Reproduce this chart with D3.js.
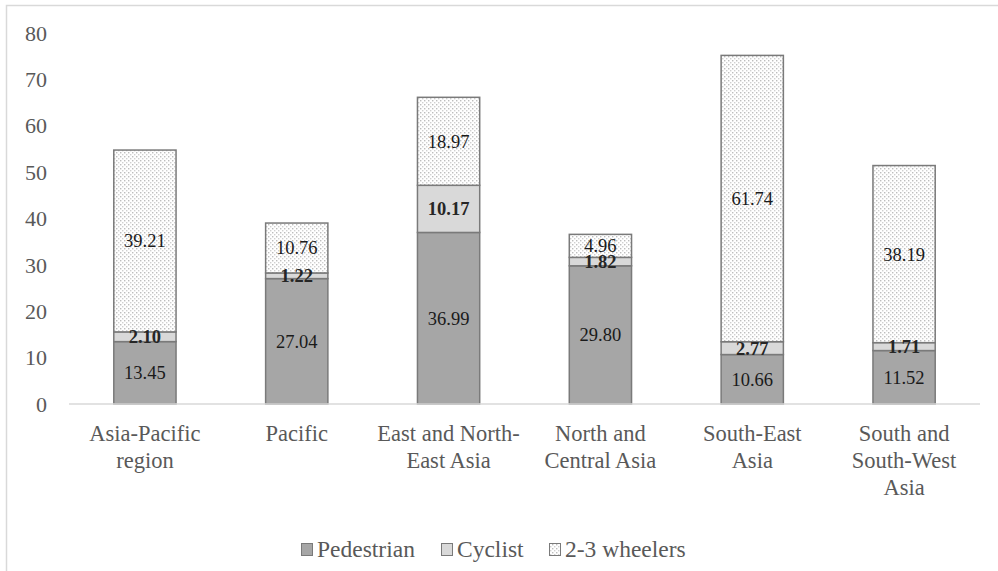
<!DOCTYPE html>
<html>
<head>
<meta charset="utf-8">
<script src="https://cdn.jsdelivr.net/npm/d3@7"></script>
<style>
  html, body { margin: 0; padding: 0; background: #fff; }
  svg { display: block; }
</style>
</head>
<body>
<svg id="chart" width="998" height="571"></svg>
<script>
// Road-user fatality shares by region (%)
const categories = [
  ["Asia-Pacific", "region"],
  ["Pacific"],
  ["East and North-", "East Asia"],
  ["North and", "Central Asia"],
  ["South-East", "Asia"],
  ["South and", "South-West", "Asia"]
];
const pedestrian = [13.45, 27.04, 36.99, 29.80, 10.66, 11.52];
const cyclist = [2.10, 1.22, 10.17, 1.82, 2.77, 1.71];
const wheelers = [39.21, 10.76, 18.97, 4.96, 61.74, 38.19];
const seriesNames = ["Pedestrian", "Cyclist", "2-3 wheelers"];
const yTicks = [0, 10, 20, 30, 40, 50, 60, 70, 80];

const FONT = "Liberation Serif";

const svg = d3.select("#chart").attr("font-family", FONT);
const W = 998, H = 571;
const margin = { left: 69, right: 18, top: 33, bottom: 167 };
const plotRight = W - margin.right;
const plotBottom = H - margin.bottom;

// Light frame around the chart area
svg.append("path")
  .attr("d", `M6.5,${H} V5.5 H${W}`)
  .attr("fill", "none").attr("stroke", "#d9d9d9").attr("stroke-width", 1.5);

// Dotted fill for 2-3 wheelers
const defs = svg.append("defs");
const pat = defs.append("pattern").attr("id", "dots")
  .attr("patternUnits", "userSpaceOnUse").attr("width", 4).attr("height", 4);
pat.append("rect").attr("width", 4).attr("height", 4).attr("fill", "#ffffff");
pat.append("rect").attr("x", 0).attr("y", 0).attr("width", 1.4).attr("height", 1.4).attr("fill", "#bdbdbd");
pat.append("rect").attr("x", 2).attr("y", 2).attr("width", 1.4).attr("height", 1.4).attr("fill", "#d0d0d0");

const x = d3.scaleBand().domain(d3.range(categories.length))
  .range([margin.left, plotRight]).paddingInner(0.59).paddingOuter(0.295);
const y = d3.scaleLinear().domain([0, 80]).range([plotBottom, margin.top]);

// Y axis tick labels
svg.append("g").selectAll("text").data(yTicks).join("text")
  .attr("font-family", FONT)
  .attr("x", 47).attr("y", d => y(d)).attr("dy", "0.35em")
  .attr("text-anchor", "end").attr("font-size", 22).attr("fill", "#595959")
  .text(d => d);

const fills = ["#a6a6a6", "#d9d9d9", "url(#dots)"];

const rows = categories.map((c, i) => ({ i, ped: pedestrian[i], cyc: cyclist[i], wh: wheelers[i] }));
const stack = d3.stack().keys(["ped", "cyc", "wh"])(rows);

const bars = svg.append("g");
stack.forEach((layer, si) => {
  bars.append("g").selectAll("rect").data(layer).join("rect")
    .attr("x", d => x(d.data.i))
    .attr("width", x.bandwidth())
    .attr("y", d => y(d[1]))
    .attr("height", d => y(d[0]) - y(d[1]))
    .attr("fill", fills[si])
    .attr("stroke", "#7a7a7a").attr("stroke-width", 1.5);
});

// Axis baseline
svg.append("line")
  .attr("x1", margin.left).attr("x2", plotRight)
  .attr("y1", y(0)).attr("y2", y(0))
  .attr("stroke", "#d9d9d9").attr("stroke-width", 1.5);

// Value labels centred in each segment
stack.forEach((layer, si) => {
  svg.append("g").selectAll("text").data(layer).join("text")
    .attr("font-family", FONT)
    .attr("x", d => x(d.data.i) + x.bandwidth() / 2)
    .attr("y", d => (y(d[0]) + y(d[1])) / 2)
    .attr("dy", "0.35em").attr("text-anchor", "middle")
    .attr("font-size", 18.5).attr("fill", si === 1 ? "#262626" : "#1a1a1a")
    .attr("font-weight", si === 1 ? "bold" : "normal")
    .text(d => (d[1] - d[0]).toFixed(2));
});

// Category labels
const xl = svg.append("g");
categories.forEach((lines, i) => {
  const t = xl.append("text")
    .attr("font-family", FONT)
    .attr("x", x(i) + x.bandwidth() / 2).attr("y", 441)
    .attr("text-anchor", "middle").attr("font-size", 22.5).attr("fill", "#595959");
  lines.forEach((ln, k) => {
    t.append("tspan").attr("x", x(i) + x.bandwidth() / 2)
      .attr("dy", k === 0 ? 0 : 27).text(ln);
  });
});

// Legend
const legendItems = [
  { name: seriesNames[0], fill: fills[0], x: 301 },
  { name: seriesNames[1], fill: fills[1], x: 441 },
  { name: seriesNames[2], fill: fills[2], x: 549 }
];
const lg = svg.append("g");
legendItems.forEach(it => {
  lg.append("rect").attr("x", it.x + 0.5).attr("y", 543.5).attr("width", 11).attr("height", 12)
    .attr("fill", it.fill).attr("stroke", "#7a7a7a").attr("stroke-width", 1);
  lg.append("text").attr("font-family", FONT)
    .attr("x", it.x + 16).attr("y", 557)
    .attr("font-size", 23.5).attr("fill", "#595959").text(it.name);
});
</script>
</body>
</html>
